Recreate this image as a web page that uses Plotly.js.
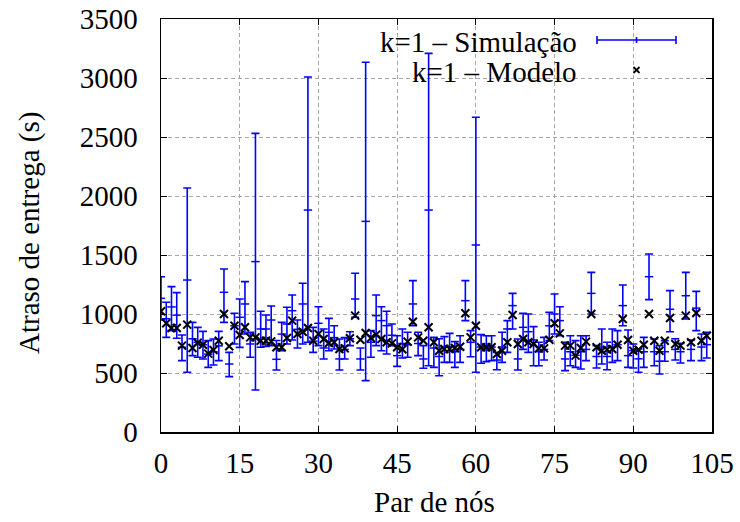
<!DOCTYPE html>
<html>
<head>
<meta charset="utf-8">
<script src="https://cdn.plot.ly/plotly-3.0.1.min.js"></script>
<style>html,body{margin:0;padding:0;background:#fff}#chart{width:740px;height:522px}</style>
</head>
<body>
<div id="chart"></div>
<script>
const pairs = [0,1,2,3,4,5,6,7,8,9,10,11,12,13,14,15,16,17,18,19,20,21,22,23,24,25,26,27,28,29,30,31,32,33,34,35,36,37,38,39,40,41,42,43,44,45,46,47,48,49,50,51,52,53,54,55,56,57,58,59,60,61,62,63,64,65,66,67,68,69,70,71,72,73,74,75,76,77,78,79,80,81,82,83,84,85,86,87,88,89,90,91,92,93,94,95,96,97,98,99,100,101,102,103,104];
const modelo = [1023,921,881,881,732,910,712,757,740,664,695,774,1000,726,901,822,887,802,802,774,774,768,718,718,797,944,831,850,881,774,831,788,754,760,703,709,794,986,782,839,797,825,788,760,751,718,701,766,935,802,774,887,760,689,703,703,712,723,1006,802,901,718,718,718,661,689,760,992,746,788,760,746,709,709,782,921,836,732,732,647,712,766,1000,718,689,698,703,740,958,780,689,698,740,1000,774,689,774,966,746,732,986,760,1009,774,816];
const simMedia = [1133,960,1060,990,718,1288,790,760,740,660,680,730,1184,576,900,972,1085,746,1444,873,873,949,616,830,915,1028,870,1085,1881,770,921,712,845,800,619,700,790,1127,619,1785,760,986,944,901,820,647,750,740,1085,750,619,1881,712,640,720,720,680,700,1113,760,1585,720,720,720,610,720,873,1071,619,887,850,780,680,700,900,1000,944,619,680,650,680,700,1175,640,720,640,720,740,1071,647,690,620,680,1316,680,600,680,1040,700,680,1155,700,1050,720,740];
const simMin = [950,802,859,794,605,506,647,633,619,548,568,605,929,469,746,717,830,633,356,718,726,732,525,689,746,780,712,746,760,675,732,619,689,703,525,619,732,972,525,435,633,732,689,661,732,556,627,633,901,647,540,562,548,477,590,590,548,590,944,638,506,582,596,605,528,590,675,873,525,700,675,562,562,610,774,831,816,520,562,548,534,605,1000,542,576,528,590,605,901,548,542,506,548,1122,562,492,599,850,610,585,958,605,859,605,627];
const simMax = [1316,1099,1232,1181,822,2068,929,887,853,774,788,853,1381,675,1006,1127,1274,845,2531,1023,992,1068,775,929,1057,1161,949,1260,3009,887,1062,873,963,901,788,800,850,1345,712,3133,859,1161,1062,1023,915,816,873,845,1283,845,732,3209,802,790,808,836,766,816,1283,859,2667,825,816,816,675,845,944,1175,788,1006,1000,893,760,802,1014,1170,1062,760,816,774,816,816,1353,732,873,760,873,859,1246,864,746,703,802,1509,788,732,774,1198,790,751,1353,780,1192,831,845];
const legendLabels = ['k=1 \u2013 Simula\u00e7\u00e3o', 'k=1 \u2013 Modelo'];
const xTitle = 'Par de n\u00f3s';
const yTitle = 'Atraso de entrega (s)';

const errUp = simMax.map((v, i) => v - simMedia[i]);
const errDown = simMedia.map((v, i) => v - simMin[i]);

const FONT = 'Liberation Serif';
const FS = 29;
const BLUE = '#0000ff';

const traces = [
  {
    x: pairs, y: simMedia, type: 'scatter', mode: 'markers', name: legendLabels[0],
    marker: {symbol: 'line-ew', size: 6, color: BLUE, line: {color: BLUE, width: 1.5}},
    error_y: {type: 'data', symmetric: false, array: errUp, arrayminus: errDown,
              color: BLUE, thickness: 1.6, width: 4},
    showlegend: false
  },
  {
    x: pairs, y: modelo, type: 'scatter', mode: 'markers', name: legendLabels[1],
    marker: {symbol: 'x-thin', size: 8, color: '#000', line: {color: '#000', width: 2}},
    showlegend: false
  }
];

const L = 161, R = 712, T = 19, B = 432;
const px = v => (v - L) / (R - L);
const py = v => (B - v) / (B - T);

const shapes = [
  {type: 'rect', xref: 'paper', yref: 'paper', x0: px(352), x1: px(692), y0: py(90), y1: 1,
   fillcolor: '#fff', line: {width: 0}, layer: 'between'},
  {type: 'line', xref: 'paper', yref: 'paper', x0: px(597), x1: px(676), y0: py(40), y1: py(40), line: {color: BLUE, width: 1.6}},
  {type: 'line', xref: 'paper', yref: 'paper', x0: px(597), x1: px(597), y0: py(36), y1: py(44), line: {color: BLUE, width: 1.6}},
  {type: 'line', xref: 'paper', yref: 'paper', x0: px(676), x1: px(676), y0: py(36), y1: py(44), line: {color: BLUE, width: 1.6}},
  {type: 'line', xref: 'paper', yref: 'paper', x0: px(636.5), x1: px(636.5), y0: py(37), y1: py(43), line: {color: BLUE, width: 1.6}},
  {type: 'line', xref: 'paper', yref: 'paper', x0: px(633.5), x1: px(639.5), y0: py(67), y1: py(73), line: {color: '#000', width: 1.8}},
  {type: 'line', xref: 'paper', yref: 'paper', x0: px(633.5), x1: px(639.5), y0: py(73), y1: py(67), line: {color: '#000', width: 1.8}}
];

const tfont = {family: FONT, size: FS, color: '#000'};
const annotations = [
  {xref: 'paper', yref: 'paper', x: px(579), y: py(42), xanchor: 'right', yanchor: 'middle',
   text: legendLabels[0], showarrow: false, font: tfont},
  {xref: 'paper', yref: 'paper', x: px(579), y: py(72), xanchor: 'right', yanchor: 'middle',
   text: legendLabels[1], showarrow: false, font: tfont},
  {xref: 'paper', yref: 'paper', x: px(434), y: py(502), xanchor: 'center', yanchor: 'middle',
   text: xTitle, showarrow: false, font: tfont},
  {xref: 'paper', yref: 'paper', x: px(29), y: py(233), xanchor: 'center', yanchor: 'middle',
   text: yTitle, textangle: -90, showarrow: false, font: tfont}
];

const axisCommon = {
  showline: true, linecolor: '#000', linewidth: 1.5, mirror: 'ticks',
  ticks: 'inside', ticklen: 6, tickwidth: 1, tickcolor: '#000',
  showgrid: true, gridcolor: '#a8a8a8', gridwidth: 1, griddash: '4px,3px',
  zeroline: false, tickfont: tfont
};

const layout = {
  width: 740, height: 522,
  margin: {l: L, r: 740 - R, t: T, b: 522 - B, pad: 0},
  paper_bgcolor: '#fff', plot_bgcolor: '#fff',
  font: tfont,
  showlegend: false,
  xaxis: Object.assign({}, axisCommon, {range: [0, 105], tick0: 0, dtick: 15, ticklabelstandoff: 5}),
  yaxis: Object.assign({}, axisCommon, {range: [0, 3500], tick0: 0, dtick: 500, ticklabelstandoff: 16}),
  shapes: shapes,
  annotations: annotations
};

Plotly.newPlot('chart', traces, layout, {staticPlot: true, displayModeBar: false});
</script>
</body>
</html>
